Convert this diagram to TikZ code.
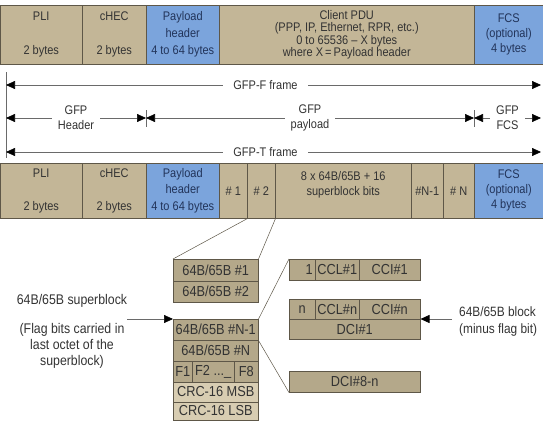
\documentclass[tikz,border=0pt]{standalone}
\usepackage{fontspec}
\setmainfont{Liberation Sans}[FakeStretch=0.88]
\usetikzlibrary{arrows.meta}
\definecolor{sand}{HTML}{C3B697}
\definecolor{sanddk}{HTML}{B4A88A}
\definecolor{sandlt}{HTML}{D8CDB2}
\definecolor{sky}{HTML}{7BA4DC}
\definecolor{edge}{HTML}{5E5748}
\definecolor{ink}{HTML}{333333}
\definecolor{skyink}{HTML}{22345A}
\definecolor{wire}{HTML}{6A6A6A}
\tikzset{tri/.tip={Triangle[length=9pt, width=8pt, color=black]}}

\begin{document}
\begin{tikzpicture}[x=1pt, y=-1pt,
  cell/.style={draw=edge, line width=0.5pt, fill=sand, anchor=north west, inner sep=0pt,
               align=center, text=ink, font=\fontsize{12.5}{15}\selectfont},
  skycell/.style={cell, fill=sky, text=skyink},
  blk/.style={cell, fill=sanddk, minimum height=21pt, font=\fontsize{14.5}{16}\selectfont},
  crc/.style={blk, fill=sandlt},
  note/.style={text=ink, inner sep=0pt, font=\fontsize{14}{16}\selectfont},
  dim/.style={tri-tri, draw=wire, line width=0.6pt},
  ptr/.style={-tri, draw=wire, line width=0.6pt},
  link/.style={draw=edge, line width=0.5pt},
  gap/.style={fill=white, text=ink, inner ysep=1pt, inner xsep=6pt, align=center,
              font=\fontsize{12.5}{15}\selectfont}
]
  \useasboundingbox (0,0) rectangle (543,420);

  % GFP-F frame
  \node[cell, minimum width=82pt, minimum height=59pt] (pli) at (0,5) {PLI\\[19pt]2 bytes};
  \node[cell, minimum width=64pt, minimum height=59pt] (chec) at (82,5) {cHEC\\[19pt]2 bytes};
  \node[skycell, minimum width=73pt, minimum height=59pt, font=\fontsize{12.5}{17}\selectfont] (ph) at (146,5)
    {Payload\\header\\4 to 64 bytes};
  \node[cell, minimum width=255pt, minimum height=59pt, font=\fontsize{12.5}{12.3}\selectfont] (pdu) at (219,5)
    {Client PDU\\(PPP, IP, Ethernet, RPR, etc.)\\0 to 65536 -- X bytes\\where X\,=\,Payload header};
  \node[skycell, minimum width=69pt, minimum height=59pt] (fcs) at (474,5) {FCS\\(optional)\\4 bytes};

  % dimension lines
  \coordinate (fL) at (6,85);   \coordinate (fR) at (541,85);
  \coordinate (hL) at (6,118);  \coordinate (hM) at (146,118);
  \coordinate (pM) at (474,118); \coordinate (hR) at (541,118);
  \coordinate (tL) at (6,152);  \coordinate (tR) at (541,152);
  \draw[link, draw=wire] (6,72) -- (6,158);
  \draw[link, draw=wire] (hM) ++(0,-8) -- ++(0,17);
  \draw[link, draw=wire] (pM) ++(0,-8) -- ++(0,17);
  \draw[dim] (fL) -- node[gap, inner xsep=10pt, pos=0.485] (fT) {GFP-F frame} (fR);
  \draw[dim] (hL) -- node[gap] (hT) {GFP\\Header} (hM);
  \draw[dim] (hM) -- node[gap] (pT) {GFP\\payload} (pM);
  \draw[dim] (pM) -- node[gap] (cT) {GFP\\FCS} (hR);
  \draw[dim] (tL) -- node[gap, inner xsep=10pt, pos=0.485] (tT) {GFP-T frame} (tR);

  % GFP-T frame
  \node[cell, minimum width=82pt, minimum height=55pt] (pli2) at (0,163) {PLI\\[18pt]2 bytes};
  \node[cell, minimum width=64pt, minimum height=55pt] (chec2) at (82,163) {cHEC\\[18pt]2 bytes};
  \node[skycell, minimum width=73pt, minimum height=55pt, font=\fontsize{12.5}{16.5}\selectfont] (ph2) at (146,163)
    {Payload\\header\\4 to 64 bytes};
  \node[cell, minimum width=28pt, minimum height=55pt] (h1) at (219,163) {\# 1};
  \node[cell, minimum width=28pt, minimum height=55pt] (h2) at (247,163) {\# 2};
  \node[cell, minimum width=136pt, minimum height=55pt] (sb) at (275,163)
    {8 x 64B/65B + 16\\superblock bits\\\mbox{}};
  \node[cell, minimum width=32pt, minimum height=55pt] (hn1) at (411,163) {\#N-1};
  \node[cell, minimum width=31pt, minimum height=55pt] (hn) at (443,163) {\# N};
  \node[skycell, minimum width=69pt, minimum height=55pt] (fcs2) at (474,163) {FCS\\(optional)\\4 bytes};

  % superblock
  \node[blk, minimum width=85pt, minimum height=21.5pt] (s1a) at (173,259) {64B/65B \#1};
  \node[blk, minimum width=85pt, minimum height=21.5pt] (s1b) at (173,280.5) {64B/65B \#2};
  \node[blk, minimum width=85pt] (s2a) at (173,319) {64B/65B \#N-1};
  \node[blk, minimum width=85pt] (s2b) at (173,340) {64B/65B \#N};
  \node[blk, minimum width=19pt] (f1) at (173,361) {F1};
  \node[blk, minimum width=42pt] (f2) at (192,361) {F2 ...\_};
  \node[blk, minimum width=24pt] (f8) at (234,361) {F8};
  \node[crc, minimum width=85pt, minimum height=20pt] (crc1) at (173,381.5) {CRC-16 MSB};
  \node[crc, minimum width=85pt, minimum height=18pt] (crc2) at (173,401.5) {CRC-16 LSB};

  % 64B/65B blocks
  \node[blk, text width=21pt, inner xsep=2.5pt, align=right] (c1) at (289,259) {1};
  \node[blk, minimum width=44pt] (c2) at (315,259) {CCL\#1};
  \node[blk, minimum width=61pt] (c3) at (359,259) {CCI\#1};
  \node[blk, minimum width=26pt, minimum height=20pt] (n1) at (289,299) {n};
  \node[blk, minimum width=44pt, minimum height=20pt] (c2n) at (315,299) {CCL\#n};
  \node[blk, minimum width=61pt, minimum height=20pt] (c3n) at (359,299) {CCI\#n};
  \node[blk, minimum width=131pt, minimum height=20pt] (dci1) at (289,319) {DCI\#1};
  \node[blk, minimum width=131pt] (dci8) at (289,371) {DCI\#8-n};

  \draw[link] (h1.south east) -- (s1a.north west);
  \draw[link] (h2.south east) -- (s1a.north east);
  \draw[link] (s2a.north east) -- (c1.north west);
  \draw[link] (s2a.south east) -- (dci8.south west);

  % side notes
  \node[note] (supA) at (72,301) {64B/65B superblock};
  \node[note, align=center] (supB) at (72,346) {(Flag bits carried in\\last octet of the\\superblock)};
  \node[note, anchor=west, align=left, font=\fontsize{13.5}{17}\selectfont] (blkA) at (459,322)
    {64B/65B block\\(minus flag bit)};
  \coordinate (supT) at (127,319);
  \coordinate (blkT) at (452,319);
  \draw[ptr] (supT) -- (s2a.north west);
  \draw[ptr] (blkT) -- (dci1.north east);
\end{tikzpicture}
\end{document}
